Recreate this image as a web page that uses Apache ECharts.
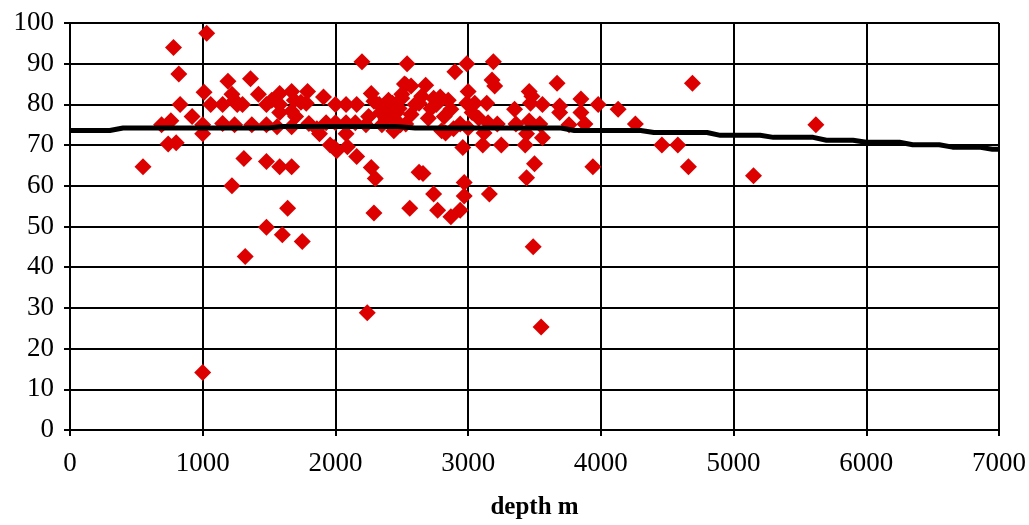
<!DOCTYPE html>
<html>
<head>
<meta charset="utf-8">
<script src="https://cdn.jsdelivr.net/npm/echarts@6/dist/echarts.min.js"></script>
<style>
  html, body { margin: 0; padding: 0; background: #fff; }
  #main { width: 1029px; height: 525px; }
</style>
</head>
<body>
<div id="main"></div>
<script>
// measured points: [depth m, value]
var points = [
  [550,64.7],[690,75],[740,70.3],[760,76],[780,94],[800,70.6],[820,87.5],[830,80],[920,77],
  [1000,75],[1000,72.8],[1000,14.1],[1010,83],[1030,97.5],[1060,80],[1150,75.3],[1150,80],
  [1190,85.7],[1220,82.5],[1240,81],[1220,60],[1260,80],[1310,66.7],[1320,42.6],[1360,86.3],
  [1370,75],[1420,82.5],[1480,80],[1480,75],[1480,66],[1480,49.8],[1560,74.5],[1580,82.7],
  [1580,80],[1580,78],[1600,48],[1580,64.7],[1640,54.5],[1670,83.2],[1690,81],[1670,78.3],
  [1670,74.5],[1670,64.7],[1750,46.3],[1790,83.2],[1780,80.3],[1740,80.5],[1800,75.3],
  [1880,72.8],[1910,81.8],[1930,75.5],[1960,70],[1990,69.4],[2010,68.6],[2000,80],[2000,75.5],
  [2080,80],[2080,75.5],[2080,72.8],[2090,69.6],[2160,80],[2150,75.5],[2160,67.2],[2200,90.5],
  [2230,75],[2240,28.8],[2270,82.7],[2290,80.8],[2270,64.5],[2300,61.8],[2290,53.3],[2330,80],
  [2380,78.3],[2380,76.4],[2430,80.3],[2430,76.6],[2440,73.5],[2480,79],[2500,82.5],[2500,81.5],
  [2520,85],[2530,84.8],[2530,75.2],[2490,75],[2540,90],[2560,54.5],[2570,84.5],[2570,77.5],
  [2630,80.3],[2630,63.3],[2660,63],[2680,84.7],[2700,76.6],[2720,79],[2740,81.5],[2740,58],
  [2770,54],[2790,81.8],[2800,73.5],[2830,73],[2850,81],[2870,78.8],[2870,52.4],[2900,88],
  [2940,75.2],[2940,54],[2960,69.4],[2970,60.8],[2970,57.5],[2990,90],[2990,80.3],[3000,83.2],
  [3000,74.2],[3050,80.3],[3080,76.6],[3110,70],[3140,80.3],[3150,75.5],[3160,58],[3180,86],
  [3190,90.5],[3200,84.5],[3220,75.2],[3250,70],[3350,78.8],[3360,75.2],[3430,70],[3440,72.8],
  [3440,62],[3460,83.2],[3470,80.3],[3480,82],[3460,75.9],[3490,45],[3500,65.4],[3540,75.2],
  [3550,25.3],[3560,80],[3560,71.8],[3670,85.2],[3690,79.6],[3690,78],[3760,75],[3850,81.3],
  [3850,78],[3880,75.2],[3940,64.7],[3980,80],[4130,78.8],[4260,75.2],[4460,70],[4580,70],
  [4660,64.7],[4690,85.2],[5150,62.5],[5620,75],
  [2250,77],[2340,78],[2350,75],[2460,78],[2400,81],[2600,80],[2650,82],[2760,80],[2820,77],
  [2890,74],[3030,78],[3120,73],[1860,74],[1700,77],[1520,81],[1300,80],[1240,75]
];

// trend line
var trendDepth = [0,300,400,1500,1600,2450,2600,3700,3800,4300,4400,4800,4900,5200,5300,5600,5700,5900,6000,6250,6350,6550,6650,6850,6950,7000];
var trendValue = [73.6,73.6,74.2,74.2,74.6,74.6,74.2,74.2,73.6,73.6,73.1,73.1,72.4,72.4,71.9,71.9,71.2,71.2,70.7,70.7,70.1,70.1,69.5,69.5,69.0,69.0];

var xTicks = { min: 0, max: 7000, interval: 1000 };
var yTicks = { min: 0, max: 100, interval: 10 };

var myChart = echarts.init(document.getElementById('main'));
var font = '"Liberation Serif", "Times New Roman", serif';

option = {
    animation: false,
    grid: { left: 70, right: 27, top: 23, bottom: 90 },
    xAxis: {
        type: 'value',
        min: xTicks.min, max: xTicks.max, interval: xTicks.interval,
        name: 'depth m',
        nameLocation: 'middle',
        nameGap: 65,
        nameTextStyle: { fontFamily: font, fontSize: 25, fontWeight: 'bold', color: '#000' },
        axisLine: { lineStyle: { color: '#000', width: 2 } },
        axisTick: { show: true, length: 6, lineStyle: { color: '#000', width: 2 } },
        axisLabel: { fontFamily: font, fontSize: 27, color: '#000', margin: 20,
            formatter: function (v) { return String(v); } },
        splitLine: { show: true, lineStyle: { color: '#000', width: 2 } }
    },
    yAxis: {
        type: 'value',
        min: yTicks.min, max: yTicks.max, interval: yTicks.interval,
        axisLine: { show: true, lineStyle: { color: '#000', width: 2 } },
        axisTick: { show: true, length: 6, lineStyle: { color: '#000', width: 2 } },
        axisLabel: { fontFamily: font, fontSize: 27, color: '#000', margin: 16 },
        splitLine: { show: true, lineStyle: { color: '#000', width: 2 } }
    },
    series: [{
        type: 'scatter',
        symbol: 'diamond',
        symbolSize: [17, 17],
        itemStyle: { color: '#dc0000', opacity: 1 },
        data: points,
        z: 2
    }, {
        type: 'line',
        showSymbol: false,
        lineStyle: { color: '#000', width: 5 },
        data: trendDepth.map(function (d, i) { return [d, trendValue[i]]; }),
        z: 3
    }]
};

myChart.setOption(option);
</script>
</body>
</html>
